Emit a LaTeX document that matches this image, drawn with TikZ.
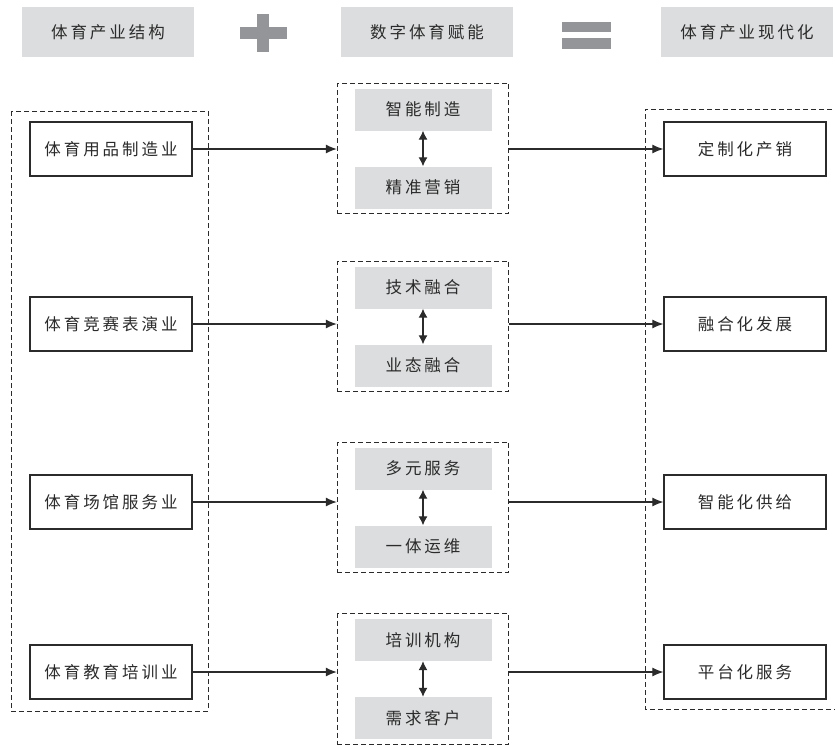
\documentclass[tikz,border=0pt]{standalone}
\usepackage{fontspec}
\usepackage{tikz}
\usetikzlibrary{arrows.meta,fit}
\newfontfamily\cjk[LetterSpace=18]{Noto Sans CJK SC}
\definecolor{boxgray}{HTML}{DCDDDE}
\definecolor{signgray}{HTML}{939598}
\definecolor{inkgray}{HTML}{2B2B2B}

\begin{document}
\begin{tikzpicture}[x=1pt, y=-1pt,
        every node/.style={font=\cjk\fontsize{16.5}{20}\selectfont, text=inkgray, inner sep=0pt},
        head/.style={fill=boxgray, minimum width=172pt, minimum height=50pt},
        sector/.style={draw=inkgray, line width=1.2pt, fill=white, minimum width=162pt, minimum height=54pt},
        means/.style={fill=boxgray, minimum width=137pt, minimum height=42pt},
        group/.style={draw=inkgray, line width=1pt, dash pattern=on 5pt off 3pt, inner xsep=17pt, inner ysep=5pt},
        dashes/.style={draw=inkgray, line width=1pt, dash pattern=on 5pt off 3pt},
        flow/.style={draw=inkgray, line width=1.1pt, -{Latex[length=11pt,width=9pt]}},
        link/.style={draw=inkgray, line width=1.1pt, {Latex[length=9pt,width=9pt]}-{Latex[length=9pt,width=9pt]}}
        ]
        \useasboundingbox (0,0) rectangle (835,745);

        % Header row
        \node[head] (structure) at (108,32) {体育产业结构};
        \node[head] (enabling) at (427,32) {数字体育赋能};
        \node[head] (modern) at (747,32) {体育产业现代化};
        % plus sign
        \fill[signgray] (240,27) rectangle (287,39);
        \fill[signgray] (257,14) rectangle (269,52);
        % equal sign
        \fill[signgray] (562,22) rectangle (611,32);
        \fill[signgray] (562,38) rectangle (611,49);

        % Outer dashed frames
        \draw[dashes] (11,111) rectangle (208,711);
        \draw[dashes] (840,109) -- (645,109) -- (645,709) -- (840,709);

        % Left column
        \node[sector] (goods) at (111,149) {体育用品制造业};
        \node[sector] (events) at (111,324) {体育竞赛表演业};
        \node[sector] (venues) at (111,502) {体育场馆服务业};
        \node[sector] (training) at (111,672) {体育教育培训业};

        % Middle column
        \node[means] (smart) at (423,109.5) {智能制造};
        \node[means] (precise) at (423,187.5) {精准营销};
        \node[group, fit=(smart) (precise)] (mid1) {};

        \node[means] (tech) at (423,287.5) {技术融合};
        \node[means] (format) at (423,365.5) {业态融合};
        \node[group, fit=(tech) (format)] (mid2) {};

        \node[means] (multi) at (423,468.5) {多元服务};
        \node[means] (unified) at (423,546.5) {一体运维};
        \node[group, fit=(multi) (unified)] (mid3) {};

        \node[means] (institution) at (423,640) {培训机构};
        \node[means] (demand) at (423,718) {需求客户};
        \node[group, fit=(institution) (demand)] (mid4) {};

        % Right column
        \node[sector] (custom) at (745,149) {定制化产销};
        \node[sector] (fusion) at (745,324) {融合化发展};
        \node[sector] (supply) at (745,502) {智能化供给};
        \node[sector] (platform) at (745,672) {平台化服务};

        % Links inside the groups
        \draw[link] (smart) -- (precise);
        \draw[link] (tech) -- (format);
        \draw[link] (multi) -- (unified);
        \draw[link] (institution) -- (demand);

        % Flows
        \draw[flow] (goods.east) -- (goods.east -| mid1.west);
        \draw[flow] (events.east) -- (events.east -| mid2.west);
        \draw[flow] (venues.east) -- (venues.east -| mid3.west);
        \draw[flow] (training.east) -- (training.east -| mid4.west);
        \draw[flow] (custom.west -| mid1.east) -- (custom.west);
        \draw[flow] (fusion.west -| mid2.east) -- (fusion.west);
        \draw[flow] (supply.west -| mid3.east) -- (supply.west);
        \draw[flow] (platform.west -| mid4.east) -- (platform.west);
    \end{tikzpicture}
\end{document}
